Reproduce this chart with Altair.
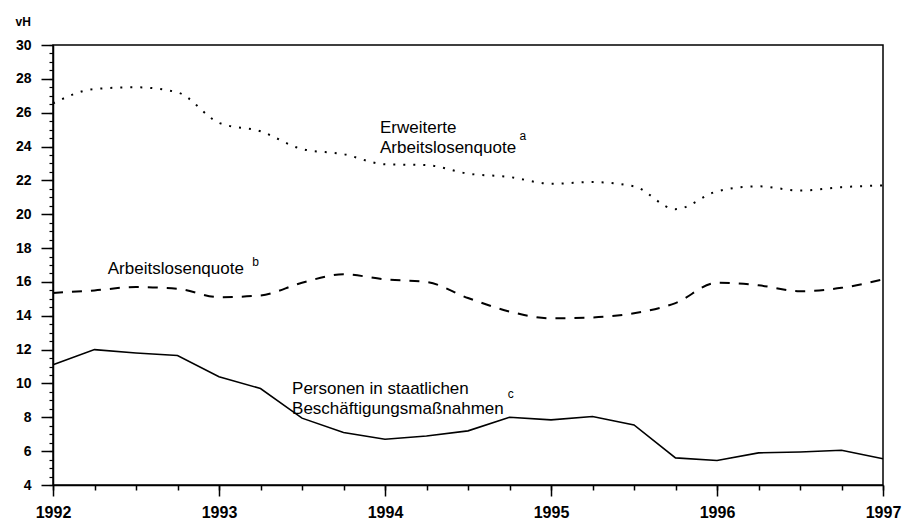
import altair as alt
import pandas as pd

# Quarterly observation points (years)
quarters = [1992.0, 1992.25, 1992.5, 1992.75, 1993.0, 1993.25, 1993.5, 1993.75,
            1994.0, 1994.25, 1994.5, 1994.75, 1995.0, 1995.25, 1995.5, 1995.75,
            1996.0, 1996.25, 1996.5, 1996.75, 1997.0]

# Erweiterte Arbeitslosenquote (a) - dotted
erweiterte = [26.55, 27.4, 27.5, 27.2, 25.4, 24.9, 23.85, 23.55, 22.95, 22.9, 22.4,
              22.2, 21.8, 21.9, 21.65, 20.3, 21.35, 21.65, 21.4, 21.6, 21.7]
# Arbeitslosenquote (b) - dashed
arbeitslosenquote = [15.35, 15.5, 15.7, 15.6, 15.1, 15.2, 15.95, 16.45, 16.15, 16.0, 15.05,
                     14.25, 13.85, 13.9, 14.15, 14.75, 15.95, 15.8, 15.45, 15.65, 16.15]
# Personen in staatlichen Beschaeftigungsmassnahmen (c) - solid
massnahmen = [11.1, 12.0, 11.8, 11.65, 10.4, 9.7, 7.95, 7.1, 6.7, 6.9, 7.2,
              8.0, 7.85, 8.05, 7.55, 5.6, 5.45, 5.9, 5.95, 6.05, 5.55]

year_ticks = [1992, 1993, 1994, 1995, 1996, 1997]
y_ticks = [4, 6, 8, 10, 12, 14, 16, 18, 20, 22, 24, 26, 28, 30]
y_minor = [4 + 0.5 * i for i in range(53)]

# Annotations (position in data units)
ann_text = ["Erweiterte", "Arbeitslosenquote", "Arbeitslosenquote",
            "Personen in staatlichen", "Beschäftigungsmaßnahmen"]
ann_x = [1993.97, 1993.97, 1992.33, 1993.44, 1993.44]
ann_y = [25.1, 23.9, 16.75, 9.7, 8.5]
sup_text = ["a", "b", "c"]
sup_x = [1994.81, 1993.2, 1994.74]
sup_y = [24.6, 17.15, 9.35]

df_a = pd.DataFrame({"x": quarters, "y": erweiterte})
df_b = pd.DataFrame({"x": quarters, "y": arbeitslosenquote})
df_c = pd.DataFrame({"x": quarters, "y": massnahmen})
df_ann = pd.DataFrame({"x": ann_x, "y": ann_y, "t": ann_text})
df_sup = pd.DataFrame({"x": sup_x, "y": sup_y, "t": sup_text})

xs = alt.Scale(domain=[1992, 1997], nice=False, zero=False)
ys = alt.Scale(domain=[4, 30], nice=False, zero=False)
FONT = "Liberation Sans"

major_x = alt.Axis(values=year_ticks, format="d", orient="bottom", grid=False,
                   tickSize=11, tickWidth=1.5, tickColor="black",
                   domainColor="black", domainWidth=1.5,
                   labelFont=FONT, labelFontSize=16, labelFontWeight="bold",
                   labelColor="black", labelPadding=8, labelFlush=False)
major_y = alt.Axis(values=y_ticks, orient="left", grid=False,
                   tickSize=12, tickWidth=1.5, tickColor="black",
                   domainColor="black", domainWidth=1.5,
                   labelFont=FONT, labelFontSize=14, labelFontWeight="bold",
                   labelColor="black", labelPadding=10,
                   title="vH", titleAngle=0, titleAlign="left", titleBaseline="middle",
                   titleX=-38, titleY=-24, titleFont=FONT, titleFontSize=12,
                   titleFontWeight="bold", titleColor="black")
minor_x = alt.Axis(values=quarters, orient="bottom", grid=False, labels=False,
                   domain=False, tickSize=5, tickWidth=1.5, tickColor="black")
minor_y = alt.Axis(values=y_minor, orient="left", grid=False, labels=False,
                   domain=False, tickSize=4, tickWidth=1.2, tickColor="black")

solid = alt.Chart(df_c).mark_line(color="black", strokeWidth=1.6).encode(
    x=alt.X("x:Q", scale=xs, axis=major_x, title=None),
    y=alt.Y("y:Q", scale=ys, axis=major_y),
)
dashed = alt.Chart(df_b).mark_line(color="black", strokeWidth=2, strokeDash=[10, 9],
                                   interpolate="monotone").encode(
    x=alt.X("x:Q", scale=xs, axis=minor_x, title=None),
    y=alt.Y("y:Q", scale=ys, axis=minor_y, title=None),
)
dotted = alt.Chart(df_a).mark_line(color="black", strokeWidth=2, strokeDash=[2, 8],
                                   interpolate="monotone").encode(
    x=alt.X("x:Q", scale=xs, axis=None),
    y=alt.Y("y:Q", scale=ys, axis=None),
)
labels = alt.Chart(df_ann).mark_text(align="left", baseline="middle", font=FONT,
                                     fontSize=17, color="black").encode(
    x=alt.X("x:Q", scale=xs, axis=None),
    y=alt.Y("y:Q", scale=ys, axis=None),
    text="t:N",
)
sups = alt.Chart(df_sup).mark_text(align="left", baseline="middle", font=FONT,
                                   fontSize=12, color="black").encode(
    x=alt.X("x:Q", scale=xs, axis=None),
    y=alt.Y("y:Q", scale=ys, axis=None),
    text="t:N",
)

chart = alt.layer(solid, dashed, dotted, labels, sups).resolve_axis(
    x="independent", y="independent"
).properties(
    width=830, height=440,
    autosize=alt.AutoSizeParams(type="none"),
    padding={"left": 45, "top": 37, "right": 19, "bottom": 37},
    background="white",
).configure_view(stroke="black", strokeWidth=1.5)

chart.save("out.html", embed_options={"renderer": "svg", "actions": False})
